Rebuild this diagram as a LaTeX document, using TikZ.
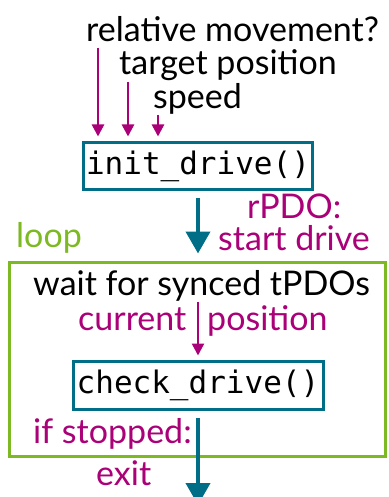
\documentclass[tikz,border=0pt]{standalone}
\usepackage{fontspec}
\setmainfont{Lato}
\setmonofont{DejaVu Sans Mono}
\usetikzlibrary{arrows.meta}
\definecolor{teal}{RGB}{0,110,135}
\definecolor{mag}{RGB}{170,0,120}
\definecolor{lgreen}{RGB}{125,185,35}
\begin{document}
\begin{tikzpicture}[x=1pt,y=-1pt,
  lbl/.style={inner sep=0pt, font=\fontsize{34}{38}\selectfont},
  mlbl/.style={lbl, text=mag},
  fnbox/.style={draw=teal, line width=3pt, inner sep=0pt, font=\ttfamily\fontsize{31}{34}\selectfont},
  marr/.style={draw=mag, line width=2.5pt, -{Triangle[width=12pt,length=12pt]}},
  tarr/.style={draw=teal, line width=4pt, -{Triangle[width=24pt,length=22pt]}}]
\clip (0,0) rectangle (388,497);
\fill[white] (0,0) rectangle (388,497);
% inputs
\node[lbl, anchor=base west] (rel) at (86,42) {relative movement?};
\node[lbl, anchor=base west] (tgt) at (119,75) {target position};
\node[lbl, anchor=base west] (spd) at (153,109) {speed};
\node[fnbox, minimum width=229pt, minimum height=46pt] (init) at (198,166) {init\_drive()};
\coordinate (a1) at (98,48);
\coordinate (a2) at (128,82);
\coordinate (a3) at (158,115);
\draw[marr, shorten >=5pt] (a1) -- (a1 |- init.north);
\draw[marr, shorten >=5pt] (a2) -- (a2 |- init.north);
\draw[marr, shorten >=5pt] (a3) -- (a3 |- init.north);
% loop
\node[draw=lgreen, line width=3pt, minimum width=375.5pt, minimum height=194pt, inner sep=0pt] (loop) at (197.25,359) {};
\node[lbl, text=lgreen, anchor=base west] (looplbl) at (16,247) {loop};
\draw[tarr, shorten <=7pt, shorten >=7pt] (init.south) -- (init.south |- loop.north);
\node[mlbl, anchor=base west] (rpdo) at (247,218) {rPDO:};
\node[mlbl, anchor=base west] (start) at (218,250) {start drive};
\node[lbl, anchor=base west] (wait) at (33,295) {wait for synced tPDOs};
\node[fnbox, minimum width=250pt, minimum height=48pt] (check) at (198,385) {check\_drive()};
\coordinate (c1) at (198,302);
\draw[marr, shorten >=4pt] (c1) -- (check.north);
\node[mlbl, anchor=base west] (cur) at (78,330) {current};
\node[mlbl, anchor=base west] (pos) at (207,330) {position};
% exit
\coordinate (exitend) at (198,505);
\draw[tarr, shorten <=7pt] (check.south) -- (exitend);
\node[mlbl, anchor=base west] (ifst) at (33,443) {if stopped:};
\node[mlbl, anchor=base west] (exit) at (96,485) {exit};
\end{tikzpicture}
\end{document}
